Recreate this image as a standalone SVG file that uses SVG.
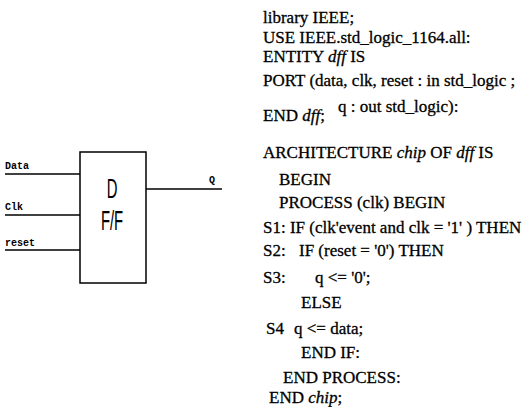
<svg xmlns="http://www.w3.org/2000/svg" width="530" height="407" viewBox="0 0 530 407">
<style>
.code{font-family:"Liberation Serif","Times New Roman",serif;font-size:17px;fill:#000;stroke:#000;stroke-width:0.3}
.it{font-style:italic}
.pin{font-family:"Liberation Mono","DejaVu Sans Mono",monospace;font-size:10px;font-weight:bold;fill:#000}
.big{font-family:"Liberation Sans",Arial,sans-serif;font-size:27px;fill:#000}
.w{stroke:#000;stroke-width:1.5;fill:none}
</style>
<rect width="530" height="407" fill="#fff"/>
<g id="connectors">
<line class="w" x1="5" y1="174" x2="80" y2="174"/>
<line class="w" x1="5" y1="215" x2="80" y2="215"/>
<line class="w" x1="5" y1="250" x2="80" y2="250"/>
<line class="w" x1="146" y1="189" x2="222" y2="189"/>
</g>
<g id="dff">
<rect class="w" x="80" y="152" width="66" height="131"/>
<text class="big" transform="translate(112,198) scale(0.55,1)" text-anchor="middle">D</text>
<text class="big" transform="translate(112,230) scale(0.55,1)" text-anchor="middle">F/F</text>
</g>
<g id="pin-data"><text class="pin" x="5" y="169">Data</text></g>
<g id="pin-clk"><text class="pin" x="5" y="210">Clk</text></g>
<g id="pin-reset"><text class="pin" x="5" y="246">reset</text></g>
<g id="pin-q"><text class="pin" x="209" y="183">Q</text></g>
<g id="code">
<text class="code" x="263" y="23">library IEEE;</text>
<text class="code" x="263" y="43">USE IEEE.std_logic_1164.all:</text>
<text class="code" x="263" y="62">ENTITY <tspan class="it">dff</tspan> IS</text>
<text class="code" x="263" y="86">PORT (data, clk, reset : in std_logic ;</text>
<text class="code" x="338" y="112">q : out std_logic):</text>
<text class="code" x="263" y="121">END <tspan class="it">dff</tspan>;</text>
<text class="code" x="263" y="158">ARCHITECTURE <tspan class="it">chip</tspan> OF <tspan class="it">dff</tspan> IS</text>
<text class="code" x="279" y="185">BEGIN</text>
<text class="code" x="279" y="208">PROCESS (clk) BEGIN</text>
<text class="code" x="263" y="233">S1: IF (clk'event and clk = '1' ) THEN</text>
<text class="code" x="263" y="256">S2:</text>
<text class="code" x="299" y="256">IF (reset = '0') THEN</text>
<text class="code" x="263" y="283">S3:</text>
<text class="code" x="315" y="283">q &lt;= '0';</text>
<text class="code" x="301" y="308">ELSE</text>
<text class="code" x="266" y="334">S4</text>
<text class="code" x="294" y="334">q &lt;= data;</text>
<text class="code" x="301" y="358">END IF:</text>
<text class="code" x="283" y="383">END PROCESS:</text>
<text class="code" x="269" y="403">END <tspan class="it">chip</tspan>;</text>
</g>
</svg>
